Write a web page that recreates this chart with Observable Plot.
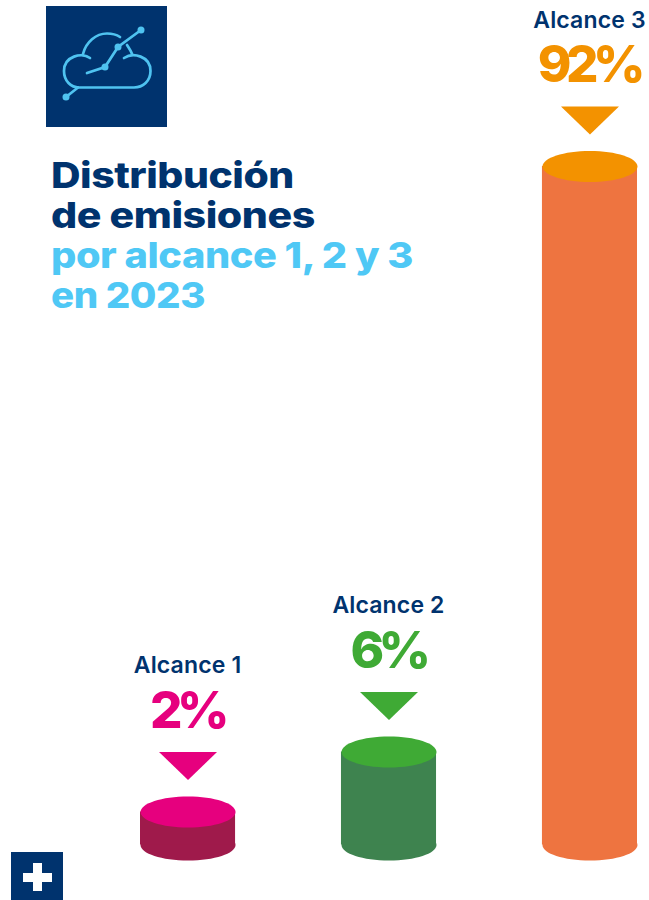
<!DOCTYPE html>
<html lang="es">
<head>
<meta charset="utf-8">
<script src="https://cdn.jsdelivr.net/npm/d3@7"></script>
<script src="https://cdn.jsdelivr.net/npm/@observablehq/plot@0.6"></script>
<style>
  html, body { margin: 0; padding: 0; background: #fff; }
  #wrap { position: relative; width: 649px; height: 900px; overflow: hidden; font-family: Inter, "Open Sans", sans-serif; }
  #chart svg { display: block; }
  #chart, #icon { position: absolute; left: 0; top: 0; }
  #title { position: absolute; left: 51px; top: 155.5px; font-size: 35.5px; line-height: 40px; font-weight: 800; letter-spacing: -0.4px; white-space: nowrap; }
  #title div { transform-origin: left center; }
  #title .a { color: #00336e; }
  #title .b { color: #4fc8f5; }
</style>
</head>
<body>
<div id="wrap">
  <div id="chart"></div>
  <svg id="icon" width="649" height="900" fill="none">
    <rect x="46" y="6" width="121" height="121" fill="#00336e"/>
    <g stroke="#4fc3f0" stroke-width="2.7" stroke-linecap="round">
      <path d="M90 58 C82 52 64 56 64 71 C64 81 71 87.5 79 87.5 H134 C143 87.5 150.5 81 150.5 71 C150.5 56 133 52 124 58"/>
      <path d="M83 54 C86 42 96 33.5 107 33.5 C112 33.5 117 35 120 37 M127 45 C129 48 131 51 132 54"/>
      <path d="M87 73 L105 67 L118 47 L141 30 M78 87.5 L66 97"/>
    </g>
    <g fill="#4fc3f0">
      <circle cx="105" cy="67" r="3.5"/><circle cx="118" cy="47" r="3.5"/>
      <circle cx="141" cy="30" r="3.5"/><circle cx="66" cy="97" r="3.5"/>
    </g>
    <rect x="11" y="852" width="52" height="48" fill="#00336e"/>
    <path d="M33 863 H42 V873 H52 V882 H42 V891 H33 V882 H23 V873 H33 Z" fill="#fff"/>
  </svg>
  <div id="title">
    <div class="a" style="transform:scaleX(1.152)">Distribución</div>
    <div class="a" style="transform:scaleX(1.158)">de emisiones</div>
    <div class="b" style="transform:scaleX(1.12)">por alcance 1, 2 y 3</div>
    <div class="b" style="transform:scaleX(1.085)">en 2023</div>
  </div>
</div>
<script>
const categories = ["Alcance 1", "Alcance 2", "Alcance 3"];
const values = [2, 6, 92];
const percentLabels = ["2%", "6%", "92%"];
const topColors = ["#e6007e", "#3faa35", "#f39200"];
const bodyColors = ["#9f1a4b", "#3e834f", "#ee7440"];

const data = categories.map((name, i) => ({
  name, value: values[i], label: percentLabels[i], top: topColors[i], body: bodyColors[i]
}));

// Cylinder caps and pointer drawn as custom dot symbols
const ellipseSymbol = (rx, ry) => ({
  draw(ctx) {
    const k = 0.5523;
    ctx.moveTo(-rx, 0);
    ctx.bezierCurveTo(-rx, -k * ry, -k * rx, -ry, 0, -ry);
    ctx.bezierCurveTo(k * rx, -ry, rx, -k * ry, rx, 0);
    ctx.bezierCurveTo(rx, k * ry, k * rx, ry, 0, ry);
    ctx.bezierCurveTo(-k * rx, ry, -rx, k * ry, -rx, 0);
    ctx.closePath();
  }
});
const triangleSymbol = (w, h) => ({
  draw(ctx) {
    ctx.moveTo(-w / 2, -h / 2);
    ctx.lineTo(w / 2, -h / 2);
    ctx.lineTo(0, h / 2);
    ctx.closePath();
  }
});
const cap = ellipseSymbol(47.5, 15.5);

const chart = Plot.plot({
  width: 649,
  height: 900,
  margin: 0,
  style: { background: "transparent", overflow: "visible" },
  x: { type: "band", domain: categories, range: [140, 637], paddingInner: 0.527, paddingOuter: 0, round: false, axis: null },
  // The reference's bars are not linear in their values: the scale is piecewise through them.
  y: { type: "linear", domain: [0, 2, 6, 92], range: [844.5, 811.5, 751.5, 166], axis: null },
  color: { type: "identity" },
  marks: [
    Plot.dot(data, { x: "name", y: () => 0, symbol: cap, r: 1, fill: "body", stroke: null }),
    Plot.barY(data, { x: "name", y: "value", fill: "body" }),
    Plot.dot(data, { x: "name", y: "value", symbol: cap, r: 1, fill: "top", stroke: null }),
    Plot.dot(data, { x: "name", y: "value", symbol: triangleSymbol(58, 28), r: 1, fill: "top", stroke: null, dy: -46 }),
    Plot.text(data, { x: "name", y: "value", text: "label", fill: "top", dy: -84.5, dx: -1, lineAnchor: "bottom",
      fontSize: 51, fontWeight: 800, fontFamily: "Inter, sans-serif" }),
    Plot.text(data, { x: "name", y: "value", text: "name", fill: "#00336e", dy: -139, dx: -0.5, lineAnchor: "bottom",
      fontSize: 23, fontWeight: 600, fontFamily: "Inter, sans-serif" })
  ]
});
// Plot's text mark has no letter-spacing option: apply it to the mark's <g> groups.
d3.select(chart).selectAll("g[font-size='51']").style("letter-spacing", "-5.5px");
d3.select(chart).selectAll("g[font-size='23']").style("letter-spacing", "0.15px");
document.getElementById("chart").appendChild(chart);
</script>
</body>
</html>
